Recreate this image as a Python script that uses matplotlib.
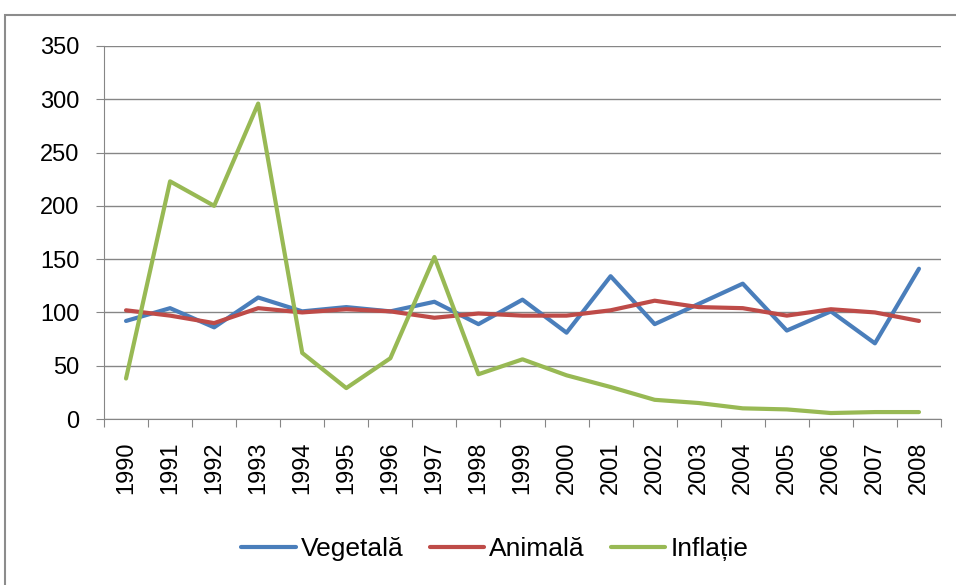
import matplotlib.pyplot as plt
import numpy as np
from matplotlib.patches import Rectangle

plt.rcParams["font.family"] = ["Liberation Sans", "DejaVu Sans"]

# -------------------------------
# DATA
# -------------------------------
years = [str(y) for y in range(1990, 2009)]
vegetala = [92, 104, 86, 114, 101, 105, 101, 110, 89, 112, 81, 134, 89, 108, 127, 83, 101, 71, 141]
animala = [102, 97, 90, 104, 100, 103, 101, 95, 99, 97, 97, 102, 111, 105, 104, 97, 103, 100, 92]
inflatie = [38, 223, 200, 296, 62, 29, 57, 152, 42, 56, 41, 30, 18, 15, 10, 9, 5.6, 6.5, 6.5]

series = [
    ("Vegetală", vegetala, "#4A7EBB"),
    ("Animală", animala, "#BE4B48"),
    ("Inflație", inflatie, "#98B954"),
]

# -------------------------------
# PLOT
# -------------------------------
fig = plt.figure(figsize=(9.56, 5.85), dpi=100)
ax = fig.add_axes([104 / 956, 1 - 419 / 585, (941 - 104) / 956, (419 - 46) / 585])

# outer chart frame
fig.patches.append(Rectangle((5 / 956, -0.01), 1.0, 1 - 15 / 585 + 0.01,
                             transform=fig.transFigure, fill=False,
                             edgecolor="#8c8c8c", linewidth=1.5))

x = np.arange(len(years))
for name, vals, color in series:
    ax.plot(x, vals, color=color, linewidth=3, label=name, solid_capstyle="round")

ax.set_xlim(-0.5, len(years) - 0.5)
ax.set_ylim(0, 350)
ax.set_yticks(range(0, 351, 50))
ax.yaxis.grid(True, color="#868686", linewidth=1)
ax.set_axisbelow(True)

ax.set_xticks(np.arange(-0.5, len(years), 1.0))
ax.set_xticklabels([])
ax.set_xticks(x, minor=True)
ax.set_xticklabels(years, minor=True, rotation=90)
ax.tick_params(axis="x", which="minor", length=0, labelsize=17, pad=16)
ax.tick_params(axis="x", which="major", length=5.5, color="#868686")
ax.tick_params(axis="y", length=5.5, color="#868686", labelsize=17, pad=12)

for s in ["top", "right"]:
    ax.spines[s].set_visible(False)
for s in ["left", "bottom"]:
    ax.spines[s].set_color("#868686")

fig.legend(loc="center", bbox_to_anchor=(495 / 956, 1 - 549 / 585), ncol=3, frameon=False,
           fontsize=19, handlelength=2.05, handletextpad=0.2, columnspacing=1.0)

fig.savefig("out.png", dpi=100)
